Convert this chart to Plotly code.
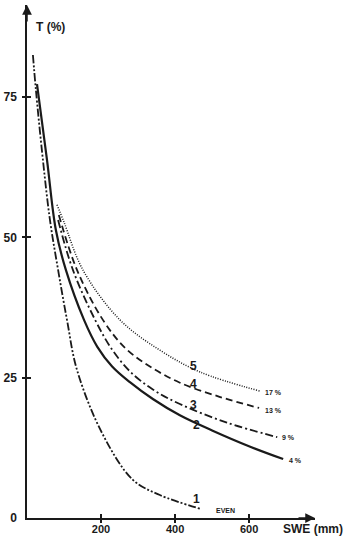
import plotly.graph_objects as go

# Curve data: SWE (mm) vs T (%)
swe_1 = [16, 24, 43, 62, 84, 108, 135, 203, 286, 359, 470]
t_1 = [82.5, 76.3, 63.8, 53.1, 44.2, 35.3, 26.4, 15.1, 6.8, 4.1, 1.6]

swe_2 = [27, 54, 78, 105, 154, 190, 230, 278, 340, 413, 500, 603, 692]
t_2 = [77.3, 63.8, 51.3, 44.2, 35.3, 30.5, 27.0, 24.2, 21.2, 18.3, 15.6, 12.7, 10.5]

swe_3 = [84, 124, 184, 230, 280, 340, 413, 540, 676]
t_3 = [53.1, 44.2, 35.3, 30.0, 26.0, 22.9, 20.3, 17.0, 14.4]

swe_4 = [86, 135, 205, 265, 332, 413, 520, 627]
t_4 = [54.0, 44.2, 35.3, 30.3, 27.0, 24.1, 21.6, 19.6]

swe_5 = [81, 100, 151, 251, 359, 468, 630]
t_5 = [55.8, 52.7, 44.2, 35.3, 29.9, 26.0, 22.6]

curve_numbers = ["1", "2", "3", "4", "5"]
number_pos_swe = [457, 457, 449, 449, 449]
number_pos_t = [3.4, 16.6, 20.2, 23.9, 27.0]

end_labels = ["EVEN", "4 %", "9 %", "13 %", "17 %"]
end_label_swe = [505, 703, 684, 638, 638]
end_label_t = [1.3, 10.3, 14.3, 19.2, 22.3]

x_ticks = [200, 400, 600]
y_ticks = [0, 25, 50, 75]
x_max = 778
y_max = 91.4

series = [
    (swe_1, t_1, "8px,2px,2px,2px,2px,2px", 1.8),
    (swe_2, t_2, "solid", 2.2),
    (swe_3, t_3, "8px,3px,2px,3px", 1.8),
    (swe_4, t_4, "7px,4px", 1.8),
    (swe_5, t_5, "1px,1.5px", 1.5),
]

INK = "#1a1a1a"
FAM = "Liberation Sans, Arial, sans-serif"

fig = go.Figure()
for xs, ys, dash, w in series:
    fig.add_trace(go.Scatter(x=xs, y=ys, mode="lines",
                             line=dict(color=INK, width=w, dash=dash, shape="spline", smoothing=1.0),
                             showlegend=False, hoverinfo="skip"))

font_main = dict(family=FAM, size=12, color=INK, weight="bold")
font_xtick = dict(family=FAM, size=11, color=INK, weight="bold")

for txt, xv, yv in zip(curve_numbers, number_pos_swe, number_pos_t):
    fig.add_annotation(x=xv, y=yv, text=txt, showarrow=False, xanchor="center", yanchor="middle",
                       font=dict(family=FAM, size=12, color=INK, weight="bold"))
for txt, xv, yv in zip(end_labels, end_label_swe, end_label_t):
    fig.add_annotation(x=xv, y=yv, text=txt, showarrow=False, xanchor="left", yanchor="middle",
                       font=dict(family=FAM, size=7, color=INK, weight="bold"))

# axis titles
fig.add_annotation(x=0, y=y_max, xref="x", yref="y", text="T (%)", showarrow=False,
                   xanchor="left", yanchor="top", xshift=7, yshift=-13,
                   font=font_main)
fig.add_annotation(x=x_max, y=0, xref="x", yref="y", text="SWE (mm)", showarrow=False,
                   xanchor="left", yanchor="top", xshift=-34, yshift=-2,
                   font=dict(family=FAM, size=12, color=INK, weight="bold"))

# arrow heads at axis ends
fig.add_annotation(x=0, y=y_max, xref="x", yref="y", ax=0, ay=18, showarrow=True,
                   arrowhead=2, arrowsize=1.3, arrowwidth=1.5, arrowcolor=INK, text="")
fig.add_annotation(x=x_max, y=0, xref="x", yref="y", ax=-18, ay=0, showarrow=True,
                   arrowhead=2, arrowsize=1.3, arrowwidth=1.5, arrowcolor=INK, text="")

axis_common = dict(showgrid=False, zeroline=False, showline=True, linecolor=INK, linewidth=1.5,
                   tickcolor=INK, tickwidth=1.5, ticklen=4, automargin=False)
overlay_common = dict(showgrid=False, zeroline=False, showline=False, showticklabels=False,
                      tickcolor=INK, tickwidth=1.5, ticklen=4, automargin=False)

fig.update_layout(
    width=350, height=537,
    margin=dict(l=27, r=35, t=5, b=19),
    paper_bgcolor="white", plot_bgcolor="white",
    xaxis=dict(range=[0, x_max], tickvals=x_ticks, ticks="inside", tickfont=font_xtick,
               ticklabelstandoff=0, **axis_common),
    yaxis=dict(range=[0, y_max], tickvals=y_ticks, ticks="inside", tickfont=font_main,
               ticklabelstandoff=6, **axis_common),
    xaxis2=dict(range=[0, x_max], tickvals=x_ticks, ticks="outside", overlaying="x", **overlay_common),
    yaxis2=dict(range=[0, y_max], tickvals=y_ticks[1:], ticks="outside", overlaying="y", **overlay_common),
)
fig.add_trace(go.Scatter(x=[None], y=[None], xaxis="x2", yaxis="y2", showlegend=False))

fig.write_html("out.html", config={"displayModeBar": False},
               post_script="document.body.style.margin='0';document.body.style.overflow='hidden';")
